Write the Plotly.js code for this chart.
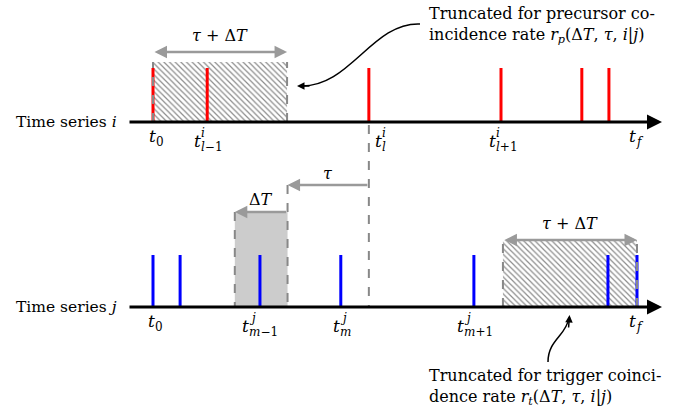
<!DOCTYPE html>
<html><head><meta charset="utf-8">
<script src="https://cdn.plot.ly/plotly-3.0.1.min.js"></script>
</head><body style="margin:0">
<div id="chart" style="width:682px;height:414px"></div>
<script>
// ---- data ----
const t0 = 0, tf = 100;
const eventsI = [0, 11.2, 44.6, 71.9, 88.6, 94.2];      // time series i (red)
const eventsJ = [0, 5.6, 22.1, 38.8, 66.3, 94.0, 100];  // time series j (blue)
const tau = 16.8, dT = 10.9;
const lIdx = 2; // index of t_l^i in eventsI
const tickPosI = [t0, eventsI[1], eventsI[2], eventsI[3], tf];
const tickSupI = ['', 'i', 'i', 'i', ''];
const tickSubI = ['0', '<i>l</i>−1', '<i>l</i>', '<i>l</i>+1', '<i>f</i>'];
const tickPosJ = [t0, eventsJ[2], eventsJ[3], eventsJ[4], tf];
const tickSupJ = ['', 'j', 'j', 'j', ''];
const tickSubJ = ['0', '<i>m</i>−1', '<i>m</i>', '<i>m</i>+1', '<i>f</i>'];
const rowLabels = ['Time series <i>i</i>', 'Time series <i>j</i>'];
const noteP = 'Truncated for precursor co-<br>incidence rate <i>r</i><sub><i>p</i></sub>(Δ<i>T</i>, <i>τ</i>, <i>i</i>|<i>j</i>)';
const noteT = 'Truncated for trigger coinci-<br>dence rate <i>r</i><sub><i>t</i></sub>(Δ<i>T</i>, <i>τ</i>, <i>i</i>|<i>j</i>)';

// ---- layout geometry ----
const PX0 = 153, SCALE = 4.84;           // pixel of t0, pixels per time unit
const px2x = p => (p - PX0) / SCALE;
const YB = 307;                           // pixel row of series j baseline
const px2y = p => YB - p;
const yI = px2y(122), yJ = 0;
const FONT = 'DejaVu Serif';
const grey = '#9a9a9a', dgrey = '#888888';

const tl = eventsI[lIdx];
const winA = tl - tau - dT, winB = tl - tau;
const hatchI = [t0, t0 + tau + dT];
const hatchJ = [tf - tau - dT, tf];

function spikes(ev, base, h) {
  const x = [], y = [];
  ev.forEach(t => { x.push(t, t, null); y.push(base, base + h, null); });
  return {x, y};
}
const sI = spikes(eventsI, yI, 54), sJ = spikes(eventsJ, yJ, 52);

const pat = {shape: '\\', fgcolor: '#8c8c8c', bgcolor: 'rgba(0,0,0,0)', size: 4, solidity: 0.3};

const traces = [
  {x: [hatchI[0], hatchI[0], hatchI[1], hatchI[1]], y: [yI, yI + 60, yI + 60, yI], fill: 'toself', mode: 'lines', line: {width: 0}, fillpattern: pat, fillcolor: 'rgba(0,0,0,0)', hoverinfo: 'skip'},
  {x: [hatchJ[0], hatchJ[0], hatchJ[1], hatchJ[1]], y: [yJ, yJ + 67, yJ + 67, yJ], fill: 'toself', mode: 'lines', line: {width: 0}, fillpattern: pat, fillcolor: 'rgba(0,0,0,0)', hoverinfo: 'skip'},
  {x: [winA, winA, winB, winB], y: [yJ, yJ + 95, yJ + 95, yJ], fill: 'toself', mode: 'lines', line: {width: 0}, fillcolor: '#cccccc', hoverinfo: 'skip'},
  {x: sI.x, y: sI.y, mode: 'lines', line: {color: '#ff0000', width: 3}, hoverinfo: 'skip'},
  {x: sJ.x, y: sJ.y, mode: 'lines', line: {color: '#0000ff', width: 3}, hoverinfo: 'skip'}
];

const dash = (x, y0, y1) => ({type: 'line', layer: 'above', xref: 'x', yref: 'y', x0: x, x1: x, y0: y0, y1: y1, line: {color: dgrey, width: 2, dash: 'dash'}});
const shapes = [
  dash(hatchI[0], yI, yI + 60), dash(hatchI[1], yI, yI + 60),
  dash(hatchJ[0], yJ, yJ + 67), dash(hatchJ[1], yJ, yJ + 67),
  dash(tl, yI - 3, yJ), dash(winB, yJ + 122, yJ), dash(winA, yJ + 95, yJ)
];
// curved callout paths
function P(px, py) { return px2x(px).toFixed(3) + ',' + px2y(py).toFixed(3); }
shapes.push({type: 'path', layer: 'above', xref: 'x', yref: 'y', path: 'M' + P(420, 24) + ' C' + P(372, 22) + ' ' + P(350, 88) + ' ' + P(300, 86), line: {color: '#000', width: 1.5}});
shapes.push({type: 'path', layer: 'above', xref: 'x', yref: 'y', path: 'M' + P(548, 362) + ' C' + P(548, 340) + ' ' + P(566, 336) + ' ' + P(569, 318), line: {color: '#000', width: 1.5}});

const ann = [];
function arrow(x0, x1, y, color, w, side, head) {
  ann.push({x: x1, y: y, ax: x0, ay: y, axref: 'x', ayref: 'y', xref: 'x', yref: 'y', text: '', showarrow: true,
    arrowhead: head, startarrowhead: head, arrowside: side, arrowcolor: color, arrowwidth: w, arrowsize: 1, startarrowsize: 1, standoff: 0, startstandoff: 0});
}
// time axes
arrow(px2x(128), px2x(662), yI, '#000', 3, 'end', 2);
arrow(px2x(128), px2x(662), yJ, '#000', 3, 'end', 2);
// window arrows
arrow(hatchI[0], hatchI[1], px2y(52), grey, 2.5, 'end+start', 2);
arrow(hatchJ[0], hatchJ[1], px2y(240), grey, 2.5, 'end+start', 2);
arrow(tl, winB, yJ + 122, grey, 2.5, 'end', 2);
arrow(winB, winA, yJ + 95, grey, 2.5, 'end', 2);
// callout arrowheads
ann.push({x: px2x(297), y: px2y(86), ax: 14, ay: 0, xref: 'x', yref: 'y', text: '', showarrow: true, arrowhead: 2, arrowwidth: 1.5, arrowcolor: '#000', arrowsize: 1, standoff: 0});
ann.push({x: px2x(569.5), y: px2y(315), ax: -1, ay: 14, xref: 'x', yref: 'y', text: '', showarrow: true, arrowhead: 2, arrowwidth: 1.5, arrowcolor: '#000', arrowsize: 1, standoff: 0});

function txt(x, y, text, size, opts) {
  ann.push(Object.assign({x: x, y: y, xref: 'x', yref: 'y', text: text, showarrow: false, font: {family: FONT, size: size}}, opts || {}));
}
// labels
txt(t0 + (tau + dT) / 2, px2y(35), '<i>τ</i> + Δ<i>T</i>', 16);
txt(tf - (tau + dT) / 2, px2y(223), '<i>τ</i> + Δ<i>T</i>', 16);
txt((winA + winB) / 2, px2y(199), 'Δ<i>T</i>', 16);
txt((winB + tl) / 2, px2y(173), '<i>τ</i>', 16);
txt(px2x(119), yI, rowLabels[0], 15.5, {xanchor: 'right'});
txt(px2x(119), yJ, rowLabels[1], 15.5, {xanchor: 'right'});
txt(px2x(427), px2y(25), noteP, 16, {xanchor: 'left', align: 'left'});
txt(px2x(427), px2y(387), noteT, 16, {xanchor: 'left', align: 'left'});

// tick labels: stacked superscript / subscript
const dxI = [-6, -15, 4, -14, -10];
const dxJ = [-7, -20, -10, -19, -10];
function tickLabels(pos, sup, sub, dx, base) {
  pos.forEach((p, k) => {
    const dy = sup[k] ? 19 : 14;
    txt(p, base, '<i>t</i>', 17, {xanchor: 'left', xshift: dx[k], yshift: -dy});
    if (sup[k]) txt(p, base, '<i>' + sup[k] + '</i>', 12, {xanchor: 'left', xshift: dx[k] + 7, yshift: -dy + 8});
    txt(p, base, sub[k], 12, {xanchor: 'left', xshift: dx[k] + 7, yshift: -dy - 6});
  });
}
tickLabels(tickPosI, tickSupI, tickSubI, dxI, yI);
tickLabels(tickPosJ, tickSupJ, tickSubJ, dxJ, yJ);

const layout = {
  width: 682, height: 414, margin: {l: 0, r: 0, t: 0, b: 0},
  font: {family: FONT, color: '#000000'},
  showlegend: false,
  xaxis: {range: [px2x(0), px2x(682)], visible: false},
  yaxis: {range: [px2y(414), px2y(0)], visible: false},
  shapes: shapes, annotations: ann
};
Plotly.newPlot('chart', traces, layout, {displayModeBar: false});
</script>
</body></html>
